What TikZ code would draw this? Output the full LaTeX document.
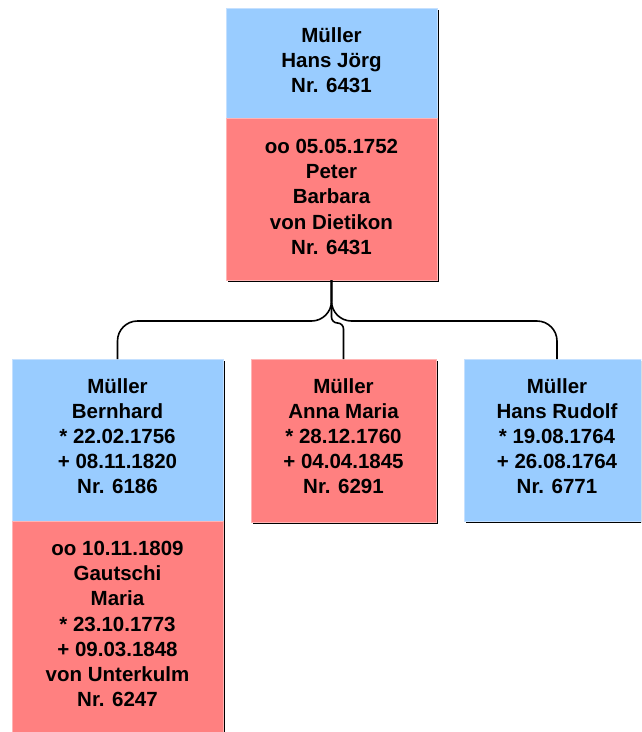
\documentclass[tikz,border=0pt]{standalone}
\usepackage{fontspec}
\setmainfont{Liberation Sans}
\usetikzlibrary{positioning,shadows}

\definecolor{manfill}{HTML}{99CCFF}
\definecolor{mandraw}{HTML}{C4E0FF}
\definecolor{wifefill}{HTML}{FF8080}
\definecolor{wifedraw}{HTML}{FFB4B4}

\begin{document}
\begin{tikzpicture}[
  x=1pt, y=-1pt,
  pbox/.style={rectangle, anchor=north west, line width=0.8pt, inner sep=0pt, outer sep=0pt,
    drop shadow={shadow xshift=1.6pt, shadow yshift=-1.6pt, fill=black, opacity=1}},
  manbox/.style={pbox, fill=manfill, draw=mandraw},
  wifebox/.style={pbox, fill=wifefill, draw=wifedraw},
  ptext/.style={anchor=north, yshift=-19pt, align=center, inner sep=0pt,
    font=\fontsize{20.5}{25.2}\selectfont\bfseries},
  link/.style={line width=1.6pt, black},
]

\path[use as bounding box, clip] (0,0) rectangle (641,732);

% ====== PARENTS ======
\node[manbox, minimum width=211pt, minimum height=110pt,
  label={[ptext]north:{Müller\\Hans Jörg\\Nr. 6431}}] (hjm) at (226,8) {};
\node[wifebox, minimum width=211pt, minimum height=162pt, below=0pt of hjm,
  label={[ptext, yshift=-2pt]north:{oo 05.05.1752\\Peter\\Barbara\\von Dietikon\\Nr. 6431}}] (hjf) {};

% ====== CHILDREN ======
\node[manbox, minimum width=211pt, minimum height=162pt,
  label={[ptext]north:{Müller\\Bernhard\\* 22.02.1756\\+ 08.11.1820\\Nr. 6186}}] (bm) at (12,359) {};
\node[wifebox, minimum width=211pt, minimum height=240pt, below=0pt of bm,
  label={[ptext, yshift=-1pt]north:{oo 10.11.1809\\Gautschi\\Maria\\* 23.10.1773\\+ 09.03.1848\\von Unterkulm\\Nr. 6247}}] (bf) {};

\node[wifebox, minimum width=185pt, minimum height=163pt,
  label={[ptext]north:{Müller\\Anna Maria\\* 28.12.1760\\+ 04.04.1845\\Nr. 6291}}] (am) at (251,359) {};

\node[manbox, minimum width=186pt, minimum height=162pt,
  label={[ptext]north:{Müller\\Hans Rudolf\\* 19.08.1764\\+ 26.08.1764\\Nr. 6771}}] (hr) at (464,359) {};

% ====== CONNECTORS ======
\coordinate (fork) at (331.5,321);
\coordinate (forkm) at (331.5,323);
\draw[link, rounded corners=20pt] (hjf.south) -- (fork) -| (bm.north);
\draw[link, rounded corners=20pt] (hjf.south) -- (fork) -| (hr.north);
\draw[link, rounded corners=6pt] (hjf.south) -- (forkm) -| (am.north);

\end{tikzpicture}
\end{document}
